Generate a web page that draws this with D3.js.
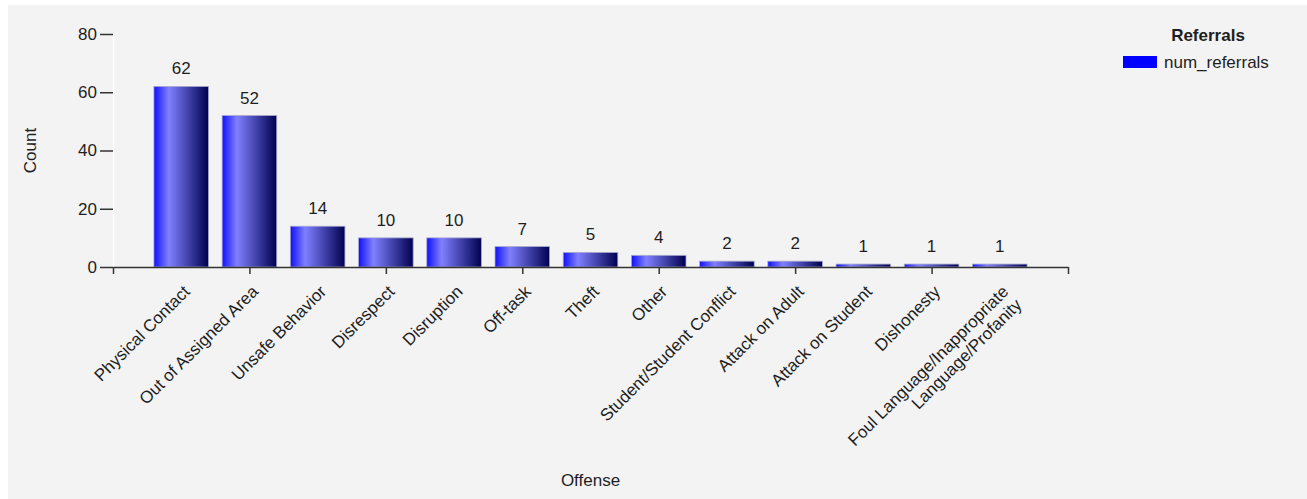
<!DOCTYPE html>
<html>
<head>
<meta charset="utf-8">
<script src="https://cdn.jsdelivr.net/npm/d3@7"></script>
<style>
  html, body { margin: 0; padding: 0; background: #ffffff; }
  svg { display: block; }
  text { font-family: "Liberation Sans", Arial, sans-serif; }
</style>
</head>
<body>
<svg id="chart" width="1307" height="499"></svg>
<script>
const categories = [
  "Physical Contact", "Out of Assigned Area", "Unsafe Behavior", "Disrespect",
  "Disruption", "Off-task", "Theft", "Other", "Student/Student Conflict",
  "Attack on Adult", "Attack on Student", "Dishonesty",
  "Foul Language/Inappropriate\nLanguage/Profanity"
];
const values = [62, 52, 14, 10, 10, 7, 5, 4, 2, 2, 1, 1, 1];
const yTicks = [0, 20, 40, 60, 80];
const xTicks = [0, 2, 4, 6, 8, 10, 12, 14];
const seriesName = "num_referrals";
const legendTitle = "Referrals";
const xTitle = "Offense";
const yTitle = "Count";

const svg = d3.select("#chart");
const W = 1307, H = 499;
const FS = 17;
const textColor = "#1e1e1e";

// panel background
svg.append("rect").attr("x", 8).attr("y", 5).attr("width", W - 8).attr("height", H - 5).attr("fill", "#f3f3f3");

const defs = svg.append("defs");
const grad = defs.append("linearGradient").attr("id", "barGrad")
  .attr("x1", "0%").attr("x2", "100%").attr("y1", "0%").attr("y2", "0%");
[["0%", "#1010ff"], ["27%", "#8080ff"], ["100%", "#000050"]].forEach(([o, c]) =>
  grad.append("stop").attr("offset", o).attr("stop-color", c));

const x = d3.scaleLinear().domain([0, categories.length + 1]).range([113, 1068]);
const y = d3.scaleLinear().domain([0, 80]).range([267, 34]);
const unit = x(1) - x(0);
const barW = unit * 0.8;

// y axis
const yAxis = svg.append("g").attr("transform", `translate(${x(0)},0)`)
  .call(d3.axisLeft(y).tickValues(yTicks).tickSize(13).tickPadding(3).tickSizeOuter(0));
yAxis.select(".domain").attr("stroke", "#ffffff").attr("stroke-width", 1.5);
yAxis.selectAll(".tick line").attr("stroke", "#333").attr("stroke-width", 1.5);
yAxis.selectAll(".tick text").attr("fill", textColor).attr("font-size", FS)
  .attr("font-family", "Liberation Sans, Arial, sans-serif");

// bars
const bars = svg.append("g");
bars.selectAll("rect").data(values).join("rect")
  .attr("x", (d, i) => x(i + 1) - barW / 2)
  .attr("y", d => y(d))
  .attr("width", barW)
  .attr("height", d => y(0) - y(d))
  .attr("fill", "url(#barGrad)")
  .attr("stroke", "#a8a8cc")
  .attr("stroke-width", 0.8);

// value labels
svg.append("g").selectAll("text").data(values).join("text")
  .attr("x", (d, i) => x(i + 1))
  .attr("y", d => y(d) - 12)
  .attr("text-anchor", "middle")
  .attr("font-size", FS)
  .attr("fill", textColor)
  .text(d => d);

// x axis
const xAxis = svg.append("g").attr("transform", `translate(0,${y(0)})`)
  .call(d3.axisBottom(x).tickValues(xTicks).tickSize(7).tickSizeOuter(0).tickFormat(""));
xAxis.select(".domain").attr("stroke", "#333").attr("stroke-width", 1.5);
xAxis.selectAll(".tick line").attr("stroke", "#333").attr("stroke-width", 1.5);

// category labels
const labG = svg.append("g");
categories.forEach((c, i) => {
  const lines = c.split("\n");
  const t = labG.append("text")
    .attr("transform", `translate(${x(i + 1) + 1},284) rotate(-45)`)
    .attr("text-anchor", "end")
    .attr("font-size", FS)
    .attr("fill", textColor);
  lines.forEach((ln, k) => {
    t.append("tspan").attr("x", 0).attr("dy", k === 0 ? "0.72em" : "1.1em").text(ln);
  });
});

// axis titles
svg.append("text")
  .attr("x", (x(0) + x(categories.length + 1)) / 2)
  .attr("y", 486)
  .attr("text-anchor", "middle")
  .attr("font-size", FS)
  .attr("fill", textColor)
  .text(xTitle);

svg.append("text")
  .attr("transform", `translate(36,${(y(0) + y(80)) / 2}) rotate(-90)`)
  .attr("text-anchor", "middle")
  .attr("font-size", FS)
  .attr("fill", textColor)
  .text(yTitle);

// legend
svg.append("text")
  .attr("x", 1208).attr("y", 41)
  .attr("text-anchor", "middle")
  .attr("font-size", FS)
  .attr("font-weight", "bold")
  .attr("fill", textColor)
  .text(legendTitle);
svg.append("rect").attr("x", 1123).attr("y", 56).attr("width", 34).attr("height", 12).attr("fill", "#0000ff");
svg.append("text")
  .attr("x", 1164).attr("y", 68)
  .attr("font-size", FS)
  .attr("fill", textColor)
  .text(seriesName);
</script>
</body>
</html>
